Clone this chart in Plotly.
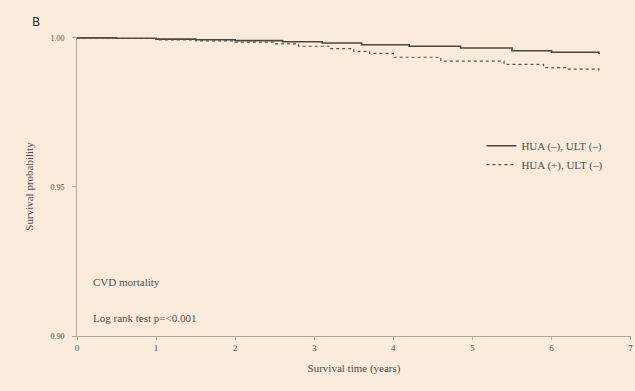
import plotly.graph_objects as go

# Data (Kaplan-Meier style step curves)
t_neg = [0, 0.5, 1.0, 1.5, 2.0, 2.6, 3.1, 3.6, 4.2, 4.85, 5.5, 6.0, 6.6]
s_neg = [1.0, 0.9999, 0.9996, 0.9994, 0.9991, 0.9987, 0.9983, 0.9977, 0.9972, 0.9966, 0.9957, 0.9952, 0.9946]

t_pos = [0, 0.5, 1.0, 1.5, 2.0, 2.5, 2.8, 3.2, 3.5, 3.7, 4.0, 4.6, 5.4, 5.9, 6.2, 6.6]
s_pos = [1.0, 0.9998, 0.9993, 0.9990, 0.9986, 0.9980, 0.9972, 0.9964, 0.9955, 0.9948, 0.9935, 0.9922, 0.9911, 0.9900, 0.9895, 0.9891]

names = ["HUA (\u2013), ULT (\u2013)", "HUA (+), ULT (\u2013)"]
x_ticks = [0, 1, 2, 3, 4, 5, 6, 7]
y_ticks = [0.90, 0.95, 1.00]
y_labels = ["0.90", "0.95", "1.00"]

BG = "#FBEBDA"
TXT = "#4f4f4f"
SERIF = "Liberation Serif"

fig = go.Figure()
fig.add_trace(go.Scatter(x=t_neg, y=s_neg, mode="lines", line_shape="hv",
                         line=dict(color="#474747", width=1.6), name=names[0]))
fig.add_trace(go.Scatter(x=t_pos, y=s_pos, mode="lines", line_shape="hv",
                         line=dict(color="#555555", width=1.2, dash="dot"), name=names[1]))

fig.update_layout(
    width=635, height=391,
    margin=dict(l=77, r=2, t=37, b=55),
    paper_bgcolor=BG, plot_bgcolor=BG,
    font=dict(family=SERIF, color=TXT, size=9),
    showlegend=True,
    legend=dict(x=0.73, y=0.685, xanchor="left", yanchor="top",
                bgcolor="rgba(0,0,0,0)", font=dict(family=SERIF, size=11, color=TXT),
                itemwidth=30, tracegroupgap=0),
)
fig.update_xaxes(range=[0, 7.005], tickvals=x_ticks, showgrid=False, zeroline=False,
                 showline=True, linecolor="#b0a69a", linewidth=1,
                 ticks="outside", ticklen=3, tickcolor="#b0a69a", ticklabeloverflow="allow",
                 tickfont=dict(family=SERIF, size=9, color=TXT),
                 title=dict(text="Survival time (years)", font=dict(family=SERIF, size=11, color=TXT), standoff=12))
fig.update_yaxes(range=[0.90, 1.0003], tickvals=y_ticks, ticktext=y_labels, showgrid=False, zeroline=False,
                 showline=True, linecolor="#b0a69a", linewidth=1,
                 ticks="outside", ticklen=4, tickcolor="#b0a69a", ticklabelstandoff=6,
                 tickfont=dict(family=SERIF, size=8, color=TXT),
                 title=dict(text="Survival probability", font=dict(family=SERIF, size=11, color=TXT), standoff=14))

fig.add_annotation(x=0.025, y=0.18, xref="paper", yref="paper", text="CVD mortality",
                   showarrow=False, xanchor="left", yanchor="middle",
                   font=dict(family=SERIF, size=11, color=TXT))
fig.add_annotation(x=0.025, y=0.06, xref="paper", yref="paper", text="Log rank test p=<0.001",
                   showarrow=False, xanchor="left", yanchor="middle",
                   font=dict(family=SERIF, size=11, color=TXT))
fig.add_annotation(x=-0.0844, y=1.08, xref="paper", yref="paper", text="B", showarrow=False,
                   font=dict(family="DejaVu Sans", size=12, color="#333333"))

fig.write_html("out.html")
